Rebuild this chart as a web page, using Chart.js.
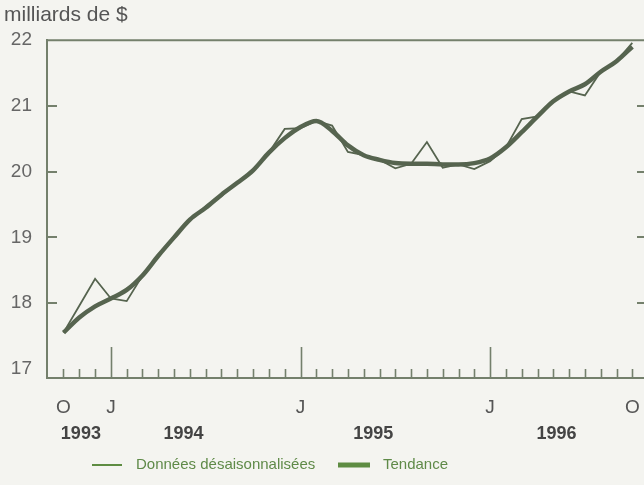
<!DOCTYPE html>
<html><head><meta charset="utf-8">
<script src="https://cdn.jsdelivr.net/npm/chart.js@4.4.1/dist/chart.umd.min.js"></script>
<style>
html,body{margin:0;padding:0;background:#f4f4f0;overflow:hidden}
canvas{display:block}
</style></head><body>
<canvas id="c" width="644" height="485"></canvas>
<script>
// ---- data ----
const months = ['1993-10','1993-11','1993-12',
  '1994-01','1994-02','1994-03','1994-04','1994-05','1994-06','1994-07','1994-08','1994-09','1994-10','1994-11','1994-12',
  '1995-01','1995-02','1995-03','1995-04','1995-05','1995-06','1995-07','1995-08','1995-09','1995-10','1995-11','1995-12',
  '1996-01','1996-02','1996-03','1996-04','1996-05','1996-06','1996-07','1996-08','1996-09','1996-10'];
const raw = [17.55, 17.96, 18.37, 18.07, 18.03, 18.42, 18.72, 19.00, 19.27, 19.47, 19.63, 19.83,
  20.02, 20.29, 20.65, 20.66, 20.77, 20.70, 20.30, 20.25, 20.18, 20.05, 20.12, 20.45,
  20.06, 20.11, 20.04, 20.16, 20.37, 20.80, 20.84, 21.07, 21.22, 21.16, 21.52, 21.68, 21.96];
const trend = [17.55, 17.78, 17.95, 18.07, 18.20, 18.42, 18.72, 19.00, 19.27, 19.45, 19.65, 19.83,
  20.02, 20.29, 20.51, 20.68, 20.77, 20.62, 20.40, 20.25, 20.18, 20.13, 20.12, 20.12,
  20.11, 20.11, 20.13, 20.20, 20.37, 20.60, 20.84, 21.07, 21.22, 21.33, 21.52, 21.68, 21.90];
const yTicks = [17, 18, 19, 20, 21, 22];
const monthLetters = ['O', 'J', 'J', 'J', 'O'];
const monthLetterIdx = [0, 3, 15, 27, 36];
const years = ['1993', '1994', '1995', '1996'];
const yearIdx = [1.1, 7.6, 19.6, 31.2];
const seriesLabels = ['Données désaisonnalisées', 'Tendance'];
const unitLabel = 'milliards de $';

// ---- style ----
const FONT = "'Liberation Sans', Arial, Helvetica, sans-serif";
const AXIS = '#74806c';
const LINE = '#56644f';
const LEG_GREEN = '#5e8c42';
Chart.defaults.font.family = FONT;

const legendItems = [
  {x0: 92, x1: 122, tx: 136, w: 2},
  {x0: 338, x1: 370, tx: 383, w: 5}
];
const LEG_Y = 465;

const frame = {
  id: 'frame',
  afterDraw(chart) {
    const {ctx, chartArea: a, scales: {x, y}} = chart;
    ctx.save();
    ctx.strokeStyle = AXIS;
    ctx.lineWidth = 2;
    ctx.beginPath(); ctx.moveTo(a.left, a.top); ctx.lineTo(chart.width, a.top); ctx.stroke();
    ctx.lineWidth = 1.6;
    months.forEach((m, i) => {
      const px = Math.round(x.getPixelForValue(i)) + 0.5;
      const h = m.endsWith('-01') ? 31 : 9;
      ctx.beginPath(); ctx.moveTo(px, a.bottom); ctx.lineTo(px, a.bottom - h); ctx.stroke();
    });
    ctx.lineWidth = 2;
    yTicks.slice(1, -1).forEach(v => {
      const py = Math.round(y.getPixelForValue(v));
      ctx.beginPath();
      ctx.moveTo(a.left, py); ctx.lineTo(a.left + 10, py);
      ctx.moveTo(chart.width - 7, py); ctx.lineTo(chart.width, py);
      ctx.stroke();
    });
    // legend
    ctx.font = '15px ' + FONT;
    ctx.textBaseline = 'middle';
    ctx.textAlign = 'left';
    chart.data.datasets.forEach((ds, i) => {
      const it = legendItems[i];
      ctx.strokeStyle = LEG_GREEN;
      ctx.lineWidth = it.w;
      ctx.beginPath(); ctx.moveTo(it.x0, LEG_Y); ctx.lineTo(it.x1, LEG_Y); ctx.stroke();
      ctx.fillStyle = '#5f8a48';
      ctx.fillText(ds.label, it.tx, LEG_Y);
    });
    ctx.restore();
  }
};

const X_MIN = -1.044, X_MAX = 36.74;
const noPad = s => { s.paddingLeft = 0; s.paddingRight = 0; };

new Chart(document.getElementById('c'), {
  type: 'line',
  data: {
    datasets: [
      {label: seriesLabels[0], data: raw.map((v, i) => ({x: i, y: v})),
       borderColor: LINE, borderWidth: 1.8, pointRadius: 0, tension: 0},
      {label: seriesLabels[1], data: trend.map((v, i) => ({x: i, y: v})),
       borderColor: LINE, borderWidth: 4.5, pointRadius: 0, cubicInterpolationMode: 'monotone'}
    ]
  },
  options: {
    responsive: false, animation: false, devicePixelRatio: 1,
    layout: {padding: {left: 4, right: 0, top: 0, bottom: 39}},
    plugins: {
      legend: {display: false},
      tooltip: {enabled: false},
      title: {display: true, text: unitLabel, align: 'start', color: '#555',
        font: {size: 21, weight: 'normal', family: FONT}, padding: {top: 3, bottom: 12}}
    },
    scales: {
      x: {
        type: 'linear', min: X_MIN, max: X_MAX,
        afterBuildTicks: s => { s.ticks = monthLetterIdx.map(v => ({value: v})); },
        ticks: {callback: (v, i) => monthLetters[i], autoSkip: false, maxRotation: 0,
          font: {size: 19}, color: '#555', padding: 18},
        grid: {drawOnChartArea: false, drawTicks: false},
        border: {display: true, color: AXIS, width: 2},
        afterFit: s => { s.height = 38; noPad(s); }
      },
      x2: {
        type: 'linear', position: 'bottom', weight: 1, min: X_MIN, max: X_MAX,
        afterBuildTicks: s => { s.ticks = yearIdx.map(v => ({value: v})); },
        ticks: {callback: (v, i) => years[i], autoSkip: false, maxRotation: 0,
          font: {size: 18, weight: 'bold'}, color: '#444', padding: 7},
        grid: {drawOnChartArea: false, drawTicks: false},
        border: {display: false},
        afterFit: s => { s.height = 30; noPad(s); }
      },
      y: {
        min: 16.86, max: 22,
        afterBuildTicks: s => { s.ticks = yTicks.map(v => ({value: v})); },
        ticks: {font: {size: 19}, color: '#666', padding: 15},
        grid: {drawOnChartArea: false, drawTicks: false},
        border: {display: true, color: AXIS, width: 2},
        afterFit: s => { s.width = 43; }
      }
    }
  },
  plugins: [frame]
});
</script>
</body></html>
